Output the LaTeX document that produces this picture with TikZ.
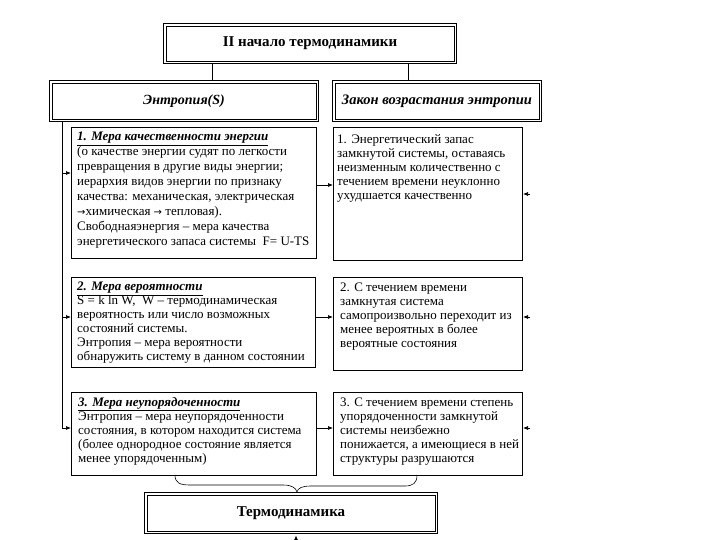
\documentclass[tikz,border=0pt]{standalone}
\usepackage{fontspec}
\setmainfont{Liberation Serif}
\newfontfamily\symf{DejaVu Sans}
\usetikzlibrary{arrows.meta,calc}
\newcommand{\rarr}{{\symf\fontsize{10}{10}\selectfont →}}
\begin{document}
\begin{tikzpicture}[x=1pt,y=-1pt,
  dbl/.style={draw, line width=0.7pt, inner sep=0pt},
  box/.style={draw, line width=0.8pt, inner sep=0pt, anchor=north west},
  txt/.style={anchor=north west, align=left, inner sep=0pt, font=\fontsize{13}{14}\selectfont},
  ln/.style={line width=0.7pt},
  outerln/.style={line width=1.2pt},
  arr/.style={-{Latex[length=5pt,width=4pt]}, line width=0.7pt}]
\useasboundingbox[fill=white] (0,0) rectangle (720,540);

% header boxes (inner line is the node, outer line drawn around it)
\node[dbl, minimum width=288pt, minimum height=35pt, font=\fontsize{15}{17}\selectfont\bfseries] (top) at (310,43.5) {II начало термодинамики};
\node[dbl, minimum width=264pt, minimum height=36pt, font=\fontsize{14}{16}\selectfont\bfseries\itshape] (ent) at (184,101) {Энтропия(S)};
\node[dbl, minimum width=204pt, minimum height=36pt, font=\fontsize{14.5}{16}\selectfont\bfseries\itshape] (law) at (437,101) {Закон возрастания энтропии};
\node[dbl, minimum width=288pt, minimum height=36pt, font=\fontsize{15}{17}\selectfont\bfseries] (thermo) at (291,513) {Термодинамика};
\foreach \n in {top,ent,law,thermo}
  \draw[outerln] ($(\n.north west)+(-2.2,-2.2)$) rectangle ($(\n.south east)+(2.2,2.2)$);

% content boxes
\node[box, minimum width=245pt, minimum height=131pt] (L1) at (71,127) {};
\node[box, minimum width=189pt, minimum height=133pt] (R1) at (333,127) {};
\node[box, minimum width=244pt, minimum height=90pt] (L2) at (71,277) {};
\node[box, minimum width=189pt, minimum height=93pt] (R2) at (333,277) {};
\node[box, minimum width=245pt, minimum height=83pt] (L3) at (71,392) {};
\node[box, minimum width=189pt, minimum height=83pt] (R3) at (333,392) {};

% texts
\node[txt, font=\fontsize{13}{15}\selectfont] (tL1) at (77,132) {%
{\bfseries\itshape\underline{1. Мера качественности энергии}}\\
(о качестве энергии судят по легкости\\
превращения в другие виды энергии;\\
иерархия видов энергии по признаку\\
качества: механическая, электрическая\\
\rarr химическая \rarr\ тепловая).\\
Свободнаяэнергия – мера качества\\
энергетического запаса системы\ \ F= U-TS};
\node[txt] (tR1) at (337,134) {%
1. Энергетический запас\\
замкнутой системы, оставаясь\\
неизменным количественно с\\
течением времени неуклонно\\
ухудшается качественно};
\node[txt] (tL2) at (77,282) {%
{\bfseries\itshape\underline{2. Мера вероятности}}\\
S = k ln W,\ \ W – термодинамическая\\
вероятность или число возможных\\
состояний системы.\\
Энтропия – мера вероятности\\
обнаружить систему в данном состоянии};
\node[txt] (tR2) at (340,283) {%
2. С течением времени\\
замкнутая система\\
самопроизвольно переходит из\\
менее вероятных в более\\
вероятные состояния};
\node[txt] (tL3) at (78,397) {%
{\bfseries\itshape\underline{3. Мера неупорядоченности}}\\
Энтропия – мера неупорядоченности\\
состояния, в котором находится система\\
(более однородное состояние является\\
менее упорядоченным)};
\node[txt] (tR3) at (340,398) {%
3. С течением времени степень\\
упорядоченности замкнутой\\
системы неизбежно\\
понижается, а имеющиеся в ней\\
структуры разрушаются};

% connectors from top
\coordinate (c1) at (212,0);
\coordinate (c2) at (408,0);
\coordinate (c3) at (62,0);
\draw[ln] ($(top.south -| c1)+(0,2.2)$) -- ($(ent.north -| c1)+(0,-2.2)$);
\draw[ln] ($(top.south -| c2)+(0,2.2)$) -- ($(law.north -| c2)+(0,-2.2)$);

% rows
\coordinate (rA) at (0,173);
\coordinate (rB) at (0,185);
\coordinate (rC) at (0,194);
\coordinate (rD) at (0,317);
\coordinate (rE) at (0,428);
\coordinate (rx1) at (530,0);
\coordinate (rx2) at (523,0);

% left trunk
\draw[ln] ($(ent.south -| c3)+(0,2.2)$) -- (rE -| c3);
\draw[arr] (rE -| c3) -- (rE -| L3.west);
\draw[arr] (rA -| c3) -- (rA -| L1.west);
\draw[arr] (rD -| c3) -- (rD -| L2.west);

% left to right
\draw[arr] (rB -| L1.east) -- (rB -| R1.west);
\draw[arr] (rD -| L2.east) -- (rD -| R2.west);
\draw[arr] (rE -| L3.east) -- (rE -| R3.west);

% small arrows on the right
\draw[arr] (rC -| rx1) -- (rC -| rx2);
\draw[arr] (rD -| rx1) -- (rD -| rx2);
\draw[arr] (rE -| rx1) -- (rE -| rx2);

% bottom arrow
\coordinate (cb) at (296,541);
\draw[arr] (cb) -- ($(thermo.south -| cb)+(0,4)$);

% brace
\draw[line width=0.6pt] (175,475) .. controls (175,483) and (180,485) .. (190,485)
  -- (283,485) .. controls (292,485) and (296,488) .. (297,492)
  .. controls (298,488) and (302,486) .. (311,486)
  -- (405,486) .. controls (413,486) and (417,483) .. (417,475);
\end{tikzpicture}
\end{document}
